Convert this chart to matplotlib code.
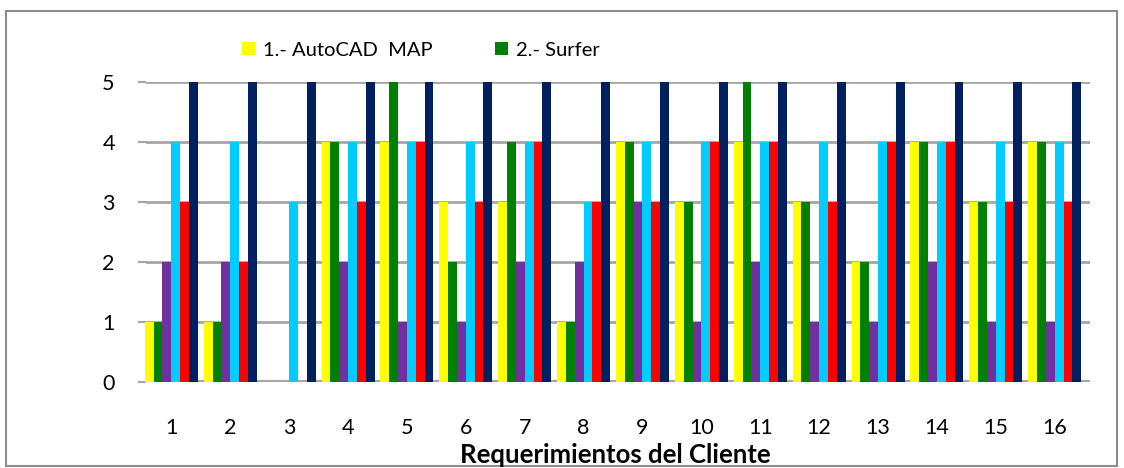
import numpy as np
import matplotlib.pyplot as plt
from matplotlib.patches import Rectangle

plt.rcParams['font.family'] = ['Lato', 'DejaVu Sans']

# Valores por requerimiento (1..16) para cada software evaluado
requerimientos = [str(i) for i in range(1, 17)]
autocad_map = [1, 1, 0, 4, 4, 3, 3, 1, 4, 3, 4, 3, 2, 4, 3, 4]
surfer      = [1, 1, 0, 4, 5, 2, 4, 1, 4, 3, 5, 3, 2, 4, 3, 4]
serie3      = [2, 2, 0, 2, 1, 1, 2, 2, 3, 1, 2, 1, 1, 2, 1, 1]
serie4      = [4, 4, 3, 4, 4, 4, 4, 3, 4, 4, 4, 4, 4, 4, 4, 4]
serie5      = [3, 2, 0, 3, 4, 3, 4, 3, 3, 4, 4, 3, 4, 4, 3, 3]
serie6      = [5, 5, 5, 5, 5, 5, 5, 5, 5, 5, 5, 5, 5, 5, 5, 5]

series = [autocad_map, surfer, serie3, serie4, serie5, serie6]
nombres = ['1.- AutoCAD  MAP', '2.- Surfer', '3', '4', '5', '6']
colores = ['#FFFF00', '#008000', '#7030A0', '#00CCFF', '#FF0000', '#002060']

fig = plt.figure(figsize=(11.24, 4.68), dpi=100)
ax = fig.add_axes([0.1299, 0.1838, 0.8399, 0.641])

x = np.arange(1, 17)
w = 0.15
barras = []
for i, (vals, nom, col) in enumerate(zip(series, nombres, colores)):
    b = ax.bar(x + (i - 2.5) * w, vals, width=w, color=col, label=nom,
               edgecolor='none', zorder=3, clip_on=False)
    barras.append(b)

ax.set_xlim(0.57, 16.6)
ax.set_ylim(0, 5)
ax.set_yticks(range(0, 6))
ax.set_xticks(x)
ax.set_xticklabels(requerimientos)
ax.yaxis.grid(True, color='#A6A6A6', linewidth=2, zorder=0)
ax.axhline(0, color='#A6A6A6', linewidth=3, zorder=2)
for s in ax.spines.values():
    s.set_visible(False)
ax.tick_params(axis='y', length=6, color='#A6A6A6', width=1.5, pad=16.5,
               labelsize=15.5)
ax.tick_params(axis='x', length=0, pad=26, labelsize=15.5)

# leyenda solo con los dos primeros programas
fig.legend(handles=barras[:2], loc='upper left', bbox_to_anchor=(0.199, 0.95),
           ncol=2, frameon=False, fontsize=14.5, handlelength=0.65,
           handleheight=0.65, handletextpad=0.4, columnspacing=3.1)

fig.text(0.547, 0.011, 'Requerimientos del Cliente', ha='center',
         va='baseline', fontsize=18.5, fontweight='bold')

# marco exterior del grafico
fig.patches.append(Rectangle((6 / 1124, 2 / 468), 1111 / 1124, 455 / 468,
                             transform=fig.transFigure, fill=False,
                             edgecolor='#8C8C8C', linewidth=1.5))

fig.savefig('out.png', dpi=100)
